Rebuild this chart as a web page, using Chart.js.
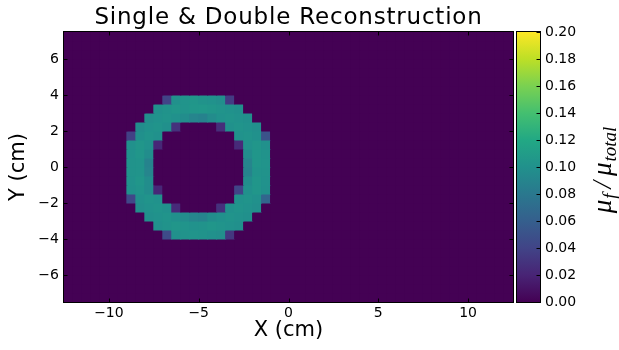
<!DOCTYPE html>
<html>
<head>
<meta charset="utf-8">
<script src="https://cdn.jsdelivr.net/npm/chart.js@4.4.1/dist/chart.umd.min.js"></script>
<style>
  html, body { margin: 0; padding: 0; background: #ffffff; }
  canvas { display: block; }
</style>
</head>
<body>
<canvas id="chart" width="619" height="350"></canvas>
<script>
// Reconstruction grid: 0.5 cm cells over a 25 x 15 cm field of view
const cellSize = 0.5;
const xCenters = [-12.25, -11.75, -11.25, -10.75, -10.25, -9.75, -9.25, -8.75, -8.25, -7.75,
  -7.25, -6.75, -6.25, -5.75, -5.25, -4.75, -4.25, -3.75, -3.25, -2.75,
  -2.25, -1.75, -1.25, -0.75, -0.25, 0.25, 0.75, 1.25, 1.75, 2.25,
  2.75, 3.25, 3.75, 4.25, 4.75, 5.25, 5.75, 6.25, 6.75, 7.25,
  7.75, 8.25, 8.75, 9.25, 9.75, 10.25, 10.75, 11.25, 11.75, 12.25];
const yCenters = [7.25, 6.75, 6.25, 5.75, 5.25, 4.75, 4.25, 3.75, 3.25, 2.75,
  2.25, 1.75, 1.25, 0.75, 0.25, -0.25, -0.75, -1.25, -1.75, -2.25,
  -2.75, -3.25, -3.75, -4.25, -4.75, -5.25, -5.75, -6.25, -6.75, -7.25];

// Region holding the reconstructed ring (cell centres, cm)
const ringX = [-8.75, -8.25, -7.75, -7.25, -6.75, -6.25, -5.75, -5.25,
  -4.75, -4.25, -3.75, -3.25, -2.75, -2.25, -1.75, -1.25];
const ringY = [3.75, 3.25, 2.75, 2.25, 1.75, 1.25, 0.75, 0.25,
  -0.25, -0.75, -1.25, -1.75, -2.25, -2.75, -3.25, -3.75];

// mu_f / mu_total in the ring region, one row per ringY entry; everything else is 0
const ringValues = [
  [0, 0, 0, 0, 0.040, 0.100, 0.103, 0.104, 0.102, 0.101, 0.098, 0.035, 0, 0, 0, 0],
  [0, 0, 0, 0.099, 0.102, 0.104, 0.103, 0.105, 0.106, 0.104, 0.103, 0.101, 0.099, 0, 0, 0],
  [0, 0, 0.098, 0.101, 0.103, 0.100, 0.097, 0.090, 0.088, 0.096, 0.101, 0.103, 0.101, 0.099, 0, 0],
  [0, 0.097, 0.101, 0.103, 0.099, 0.028, 0, 0, 0, 0, 0.026, 0.100, 0.103, 0.101, 0.098, 0],
  [0.038, 0.099, 0.103, 0.100, 0, 0, 0, 0, 0, 0, 0, 0, 0.101, 0.103, 0.100, 0.050],
  [0.100, 0.104, 0.101, 0.022, 0, 0, 0, 0, 0, 0, 0, 0, 0.024, 0.101, 0.104, 0.100],
  [0.101, 0.104, 0.097, 0, 0, 0, 0, 0, 0, 0, 0, 0, 0, 0.097, 0.104, 0.102],
  [0.102, 0.103, 0.089, 0, 0, 0, 0, 0, 0, 0, 0, 0, 0, 0.090, 0.104, 0.103],
  [0.102, 0.103, 0.090, 0, 0, 0, 0, 0, 0, 0, 0, 0, 0, 0.089, 0.103, 0.102],
  [0.101, 0.104, 0.097, 0, 0, 0, 0, 0, 0, 0, 0, 0, 0, 0.097, 0.104, 0.101],
  [0.100, 0.103, 0.097, 0.022, 0, 0, 0, 0, 0, 0, 0, 0, 0.040, 0.100, 0.104, 0.100],
  [0.042, 0.100, 0.103, 0.101, 0, 0, 0, 0, 0, 0, 0, 0, 0.101, 0.103, 0.100, 0.065],
  [0, 0.098, 0.101, 0.103, 0.100, 0.024, 0, 0, 0, 0, 0.028, 0.100, 0.103, 0.101, 0.098, 0],
  [0, 0, 0.099, 0.101, 0.103, 0.099, 0.096, 0.090, 0.089, 0.097, 0.100, 0.103, 0.101, 0.099, 0, 0],
  [0, 0, 0, 0.099, 0.102, 0.104, 0.103, 0.101, 0.102, 0.104, 0.103, 0.101, 0.099, 0, 0, 0],
  [0, 0, 0, 0, 0.045, 0.100, 0.102, 0.103, 0.102, 0.100, 0.098, 0.032, 0, 0, 0, 0]
];

// Axis ticks
const xTickValues = [-10, -5, 0, 5, 10];
const yTickValues = [-6, -4, -2, 0, 2, 4, 6];
const cbMin = 0, cbMax = 0.2;
const cbTickValues = [0, 0.02, 0.04, 0.06, 0.08, 0.10, 0.12, 0.14, 0.16, 0.18, 0.20];
const chartTitle = 'Single & Double Reconstruction';

// Viridis colour map
const viridisStops = ['#440154', '#482475', '#414487', '#355f8d', '#2a788e', '#21918c',
  '#22a884', '#44bf70', '#7ad151', '#bddf26', '#fde725'];
function hexToRgb(h) {
  return [parseInt(h.slice(1, 3), 16), parseInt(h.slice(3, 5), 16), parseInt(h.slice(5, 7), 16)];
}
const viridisRgb = viridisStops.map(hexToRgb);
function viridis(t) {
  t = Math.max(0, Math.min(1, t));
  const pos = t * (viridisRgb.length - 1);
  const i = Math.min(Math.floor(pos), viridisRgb.length - 2);
  const f = pos - i;
  const a = viridisRgb[i], b = viridisRgb[i + 1];
  const c = a.map((v, k) => Math.round(v + (b[k] - v) * f));
  return `rgb(${c[0]},${c[1]},${c[2]})`;
}

function valueAt(x, y) {
  const c = ringX.indexOf(x), r = ringY.indexOf(y);
  return (c >= 0 && r >= 0) ? ringValues[r][c] : 0;
}

// One floating-bar dataset per grid row; each bar is one cell
const datasets = yCenters.map(yc => {
  const vals = xCenters.map(xc => valueAt(xc, yc));
  return {
    data: xCenters.map(xc => ({ x: xc, y: [yc - cellSize / 2, yc + cellSize / 2] })),
    backgroundColor: vals.map(v => viridis((v - cbMin) / (cbMax - cbMin))),
    borderWidth: 0,
    grouped: false,
    barPercentage: 1,
    categoryPercentage: 1,
    inflateAmount: 0.5
  };
});

const fontFamily = '"DejaVu Sans", sans-serif';
const fmtMinus = v => (v < 0 ? '\u2212' + Math.abs(v) : String(v));

// Frame, inward ticks, colour bar, its label and the title
const decorations = {
  id: 'decorations',
  afterDatasetsDraw(chart) {
    const { ctx, chartArea: a, scales } = chart;
    ctx.save();
    ctx.strokeStyle = '#000';
    ctx.lineWidth = 1;
    const L = Math.round(a.left) - 0.5, R = Math.round(a.right) + 0.5;
    const T = Math.round(a.top) - 0.5, B = Math.round(a.bottom) + 0.5;
    ctx.strokeRect(L, T, R - L, B - T);
    const tl = 4;
    ctx.beginPath();
    xTickValues.forEach(v => {
      const px = Math.round(scales.x.getPixelForValue(v)) + 0.5;
      ctx.moveTo(px, B); ctx.lineTo(px, B - tl);
      ctx.moveTo(px, T); ctx.lineTo(px, T + tl);
    });
    yTickValues.forEach(v => {
      const py = Math.round(scales.y.getPixelForValue(v)) + 0.5;
      ctx.moveTo(L, py); ctx.lineTo(L + tl, py);
      ctx.moveTo(R, py); ctx.lineTo(R - tl, py);
    });
    ctx.stroke();

    // colour bar
    const cb = scales.cb;
    const cbL = Math.round(cb.left) + 4, cbR = Math.round(cb.left) + 27;
    const cbT = Math.round(cb.getPixelForValue(cbMax)), cbB = Math.round(cb.getPixelForValue(cbMin));
    const grad = ctx.createLinearGradient(0, cbB, 0, cbT);
    viridisStops.forEach((c, i) => grad.addColorStop(i / (viridisStops.length - 1), c));
    ctx.fillStyle = grad;
    ctx.fillRect(cbL, cbT, cbR - cbL, cbB - cbT);
    ctx.strokeRect(cbL - 0.5, cbT - 0.5, cbR - cbL + 1, cbB - cbT + 1);
    ctx.beginPath();
    cbTickValues.forEach(v => {
      const py = Math.round(cb.getPixelForValue(v)) + 0.5;
      ctx.moveTo(cbR + 0.5, py); ctx.lineTo(cbR - 3.5, py);
    });
    ctx.stroke();

    // title, centred over the plot area
    ctx.fillStyle = '#000';
    ctx.font = `23px ${fontFamily}`;
    if ('letterSpacing' in ctx) ctx.letterSpacing = '0.8px';
    ctx.textAlign = 'center';
    ctx.textBaseline = 'alphabetic';
    ctx.fillText(chartTitle, (a.left + a.right) / 2, 24);
    if ('letterSpacing' in ctx) ctx.letterSpacing = '0px';

    // colour bar label: mu_f / mu_total
    const parts = [
      { t: '\u03bc', size: 27, dy: 0, gap: 0 },
      { t: 'f', size: 19, dy: 5, gap: 1 },
      { t: '/', size: 27, dy: 0, gap: 5 },
      { t: '\u03bc', size: 27, dy: 0, gap: 5 },
      { t: 'total', size: 19, dy: 5, gap: 1 }
    ];
    const family = '"Liberation Serif", "DejaVu Serif", serif';
    let total = 0;
    parts.forEach(p => {
      ctx.font = `italic ${p.size}px ${family}`;
      p.w = ctx.measureText(p.t).width;
      total += p.w + p.gap;
    });
    ctx.translate(611, 170);
    ctx.rotate(-Math.PI / 2);
    ctx.textAlign = 'left';
    let x = -total / 2;
    parts.forEach(p => {
      x += p.gap;
      ctx.font = `italic ${p.size}px ${family}`;
      ctx.fillText(p.t, x, p.dy);
      x += p.w;
    });
    ctx.restore();
  }
};

new Chart(document.getElementById('chart'), {
  type: 'bar',
  data: { datasets },
  plugins: [decorations],
  options: {
    responsive: false,
    devicePixelRatio: 1,
    animation: false,
    events: [],
    layout: { padding: { top: 32, left: 0, right: 0, bottom: 0 } },
    plugins: {
      legend: { display: false },
      tooltip: { enabled: false },
      title: { display: false }
    },
    scales: {
      x: {
        type: 'linear', min: -12.5, max: 12.5, offset: false,
        grid: { display: false, offset: false, drawTicks: false }, border: { display: false },
        afterBuildTicks: s => { s.ticks = xTickValues.map(v => ({ value: v })); },
        afterFit: s => { s.height = 48; },
        ticks: { color: '#000', padding: 3, maxRotation: 0, autoSkip: false,
          font: { family: fontFamily, size: 14 }, callback: v => fmtMinus(v) },
        title: { display: true, text: 'X (cm)', color: '#000',
          font: { family: fontFamily, size: 21, lineHeight: 1.2 }, padding: { top: 0, bottom: 7 } }
      },
      y: {
        type: 'linear', min: -7.5, max: 7.5, position: 'left',
        grid: { display: false, drawTicks: false }, border: { display: false },
        afterBuildTicks: s => { s.ticks = yTickValues.map(v => ({ value: v })); },
        afterFit: s => { s.width = 64; },
        ticks: { color: '#000', padding: 5, autoSkip: false,
          font: { family: fontFamily, size: 14 }, callback: v => fmtMinus(v) },
        title: { display: true, text: 'Y (cm)', color: '#000',
          font: { family: fontFamily, size: 21, lineHeight: 1.2 }, padding: { top: 6, bottom: 0 } }
      },
      cb: {
        type: 'linear', min: cbMin, max: cbMax, position: 'right',
        grid: { display: false, drawTicks: true, tickLength: 27 }, border: { display: false },
        afterBuildTicks: s => { s.ticks = cbTickValues.map(v => ({ value: v })); },
        afterFit: s => { s.width = 106; },
        ticks: { color: '#000', padding: 5, autoSkip: false,
          font: { family: fontFamily, size: 14 }, callback: v => v.toFixed(2) }
      }
    }
  }
});
</script>
</body>
</html>
